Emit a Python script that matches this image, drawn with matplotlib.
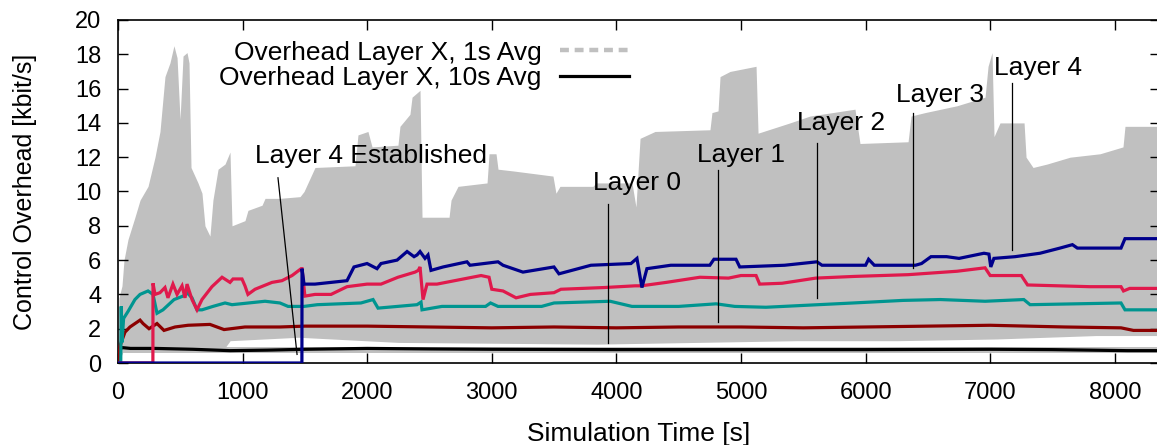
import matplotlib
matplotlib.use('Agg')
import matplotlib.pyplot as plt
from matplotlib.lines import Line2D

plt.rcParams['font.family'] = ['Liberation Sans', 'DejaVu Sans']

# 1s averages (all layers): grey envelope
env_t = [0, 8, 32, 48, 80, 136, 177, 241, 297, 337, 377, 417, 449, 474, 498, 522, 554, 570,
         586, 642, 674, 698, 738, 762, 803, 859, 899, 915, 1019, 1043, 1156, 1180, 1300, 1461,
         1493, 1581, 1902, 1926, 2006, 2039, 2247, 2263, 2343, 2360, 2424, 2440, 2657, 2673,
         2729, 2962, 2978, 3034, 3050, 3170, 3491, 3515, 3547, 3812, 3836, 4125, 4157, 4190,
         4310, 4751, 4767, 4816, 4832, 4912, 5121, 5137, 5393, 5554, 5915, 5955, 6341, 6365,
         6477, 6734, 6959, 6983, 7015, 7031, 7079, 7272, 7288, 7344, 7456, 7641, 7882, 8066,
         8082, 8400]
env_hi = [0, 3.8, 4.5, 6.0, 7.2, 8.5, 9.5, 10.3, 12.0, 13.5, 16.7, 17.5, 18.5, 17.8, 14.2, 17.9,
          18.1, 17.5, 11.4, 10.5, 9.9, 8.0, 7.4, 9.5, 11.3, 11.6, 12.3, 8.0, 8.3, 8.9, 9.2, 9.6,
          9.6, 9.7, 10.0, 11.4, 11.5, 13.3, 13.5, 12.6, 12.7, 13.8, 14.5, 15.5, 15.9, 8.5, 8.5,
          9.5, 10.3, 10.5, 12.2, 12.2, 11.3, 11.2, 10.9, 9.9, 10.3, 10.3, 10.5, 10.5, 9.1, 13.1,
          13.5, 13.6, 14.6, 14.7, 16.7, 17.0, 17.3, 13.4, 14.0, 14.4, 14.8, 12.8, 12.9, 14.4,
          14.6, 15.0, 15.5, 17.3, 18.1, 13.2, 14.0, 14.0, 12.0, 11.4, 11.6, 12.0, 12.2, 12.6,
          13.8, 13.8]
low_t = [0, 56, 860, 900, 1450, 2250, 3850, 4650, 5450, 6250, 7050, 7850, 8400]
low_v = [0, 0.9, 0.9, 1.3, 1.5, 1.2, 1.1, 1.2, 1.3, 1.3, 1.4, 1.6, 1.6]
l0_band = [0.6, 0.95]

# 10s averages per layer
t0 = [0, 10, 30, 100, 300, 600, 900, 1200, 1500, 2000, 2500, 3000, 4000, 5000, 6000, 7000,
      7500, 8100, 8400]
v0 = [0, 0.7, 0.9, 0.85, 0.85, 0.8, 0.72, 0.75, 0.8, 0.85, 0.82, 0.8, 0.78, 0.78, 0.78, 0.8,
      0.78, 0.72, 0.72]

t1 = [0, 16, 56, 96, 177, 201, 249, 313, 369, 458, 562, 738, 851, 1019, 1300, 1500, 2000,
      2500, 3000, 3500, 4000, 4500, 5000, 5500, 6000, 6500, 7000, 7300, 7600, 8050, 8150, 8400]
v1 = [0, 1.0, 1.8, 2.1, 2.5, 2.3, 2.0, 2.3, 1.9, 2.1, 2.2, 2.25, 1.95, 2.1, 2.1, 2.15, 2.15,
      2.1, 2.05, 2.1, 2.05, 2.1, 2.1, 2.05, 2.1, 2.15, 2.2, 2.15, 2.1, 2.05, 1.9, 1.9]

t2 = [0, 22, 26, 32, 45, 80, 136, 177, 241, 281, 313, 361, 450, 522, 554, 594, 634, 674, 762,
      859, 915, 1180, 1300, 1365, 1493, 1600, 1950, 2047, 2087, 2400, 2432, 2440, 2600, 2950,
      2990, 3050, 3400, 3500, 3950, 4125, 4500, 4800, 4950, 5200, 5900, 6300, 6600, 6959,
      7270, 7320, 8050, 8082, 8400]
v2 = [0, 0, 3.3, 1.2, 2.6, 3.0, 3.7, 4.0, 4.2, 4.0, 2.9, 3.1, 3.7, 3.9, 4.1, 3.8, 3.1, 3.1,
      3.3, 3.5, 3.4, 3.6, 3.5, 3.3, 3.3, 3.4, 3.5, 3.7, 3.2, 3.4, 3.55, 3.1, 3.3, 3.3, 3.5,
      3.3, 3.3, 3.5, 3.6, 3.3, 3.3, 3.45, 3.3, 3.25, 3.5, 3.65, 3.7, 3.6, 3.7, 3.4, 3.5, 3.1,
      3.1]

t3 = [0, 280, 281, 297, 337, 377, 401, 441, 474, 514, 538, 554, 594, 634, 674, 754, 835, 899,
      923, 995, 1019, 1043, 1100, 1236, 1316, 1397, 1470, 1477, 1500, 1581, 1710, 1838, 1999,
      2111, 2247, 2384, 2410, 2424, 2448, 2480, 2560, 2914, 2978, 3000, 3090, 3195, 3310,
      3499, 3555, 3900, 4150, 4200, 4400, 4670, 4900, 5000, 5121, 5150, 5330, 5600, 5915,
      6341, 6734, 6959, 7000, 7250, 7300, 7800, 8050, 8070, 8120, 8400]
v3 = [0, 0, 4.65, 4.0, 4.1, 4.4, 3.8, 4.6, 4.0, 4.5, 3.8, 4.6, 3.7, 3.1, 3.7, 4.45, 5.0, 4.7,
      4.9, 4.9, 4.5, 4.0, 4.3, 4.7, 4.8, 5.1, 5.5, 5.5, 3.9, 4.0, 4.0, 4.45, 4.6, 4.6, 5.0,
      5.3, 5.4, 5.6, 3.7, 4.6, 4.6, 5.1, 5.0, 4.3, 4.2, 3.8, 4.0, 4.1, 4.3, 4.4, 4.5, 4.5,
      4.7, 5.0, 4.95, 5.1, 5.1, 4.6, 4.65, 4.95, 5.05, 5.15, 5.35, 5.55, 5.1, 5.1, 4.55,
      4.45, 4.45, 4.2, 4.35, 4.35]

t4 = [0, 1476, 1477, 1493, 1581, 1838, 1894, 1999, 2079, 2111, 2240, 2320, 2376, 2400, 2424,
      2464, 2488, 2512, 2609, 2801, 2825, 3050, 3090, 3250, 3499, 3539, 3796, 4117, 4165,
      4205, 4245, 4437, 4750, 4783, 4960, 4990, 5350, 5610, 5650, 6000, 6024, 6070, 6400,
      6449, 6525, 6650, 6750, 6950, 6990, 7005, 7030, 7200, 7400, 7560, 7660, 7700, 8050,
      8082, 8400]
v4 = [0, 0, 5.5, 4.6, 4.6, 4.8, 5.6, 5.8, 5.5, 5.8, 6.0, 6.5, 6.2, 6.3, 6.5, 6.1, 6.3, 5.4,
      5.6, 5.9, 5.7, 5.9, 5.7, 5.3, 5.6, 5.2, 5.7, 5.8, 6.1, 4.4, 5.5, 5.7, 5.7, 6.05, 6.05,
      5.6, 5.7, 5.9, 5.7, 5.7, 6.05, 5.7, 5.7, 5.8, 6.2, 6.2, 6.1, 6.4, 6.35, 5.6, 6.1, 6.2,
      6.4, 6.7, 6.9, 6.7, 6.7, 7.25, 7.25]

layer_colors = ['#000000', '#8b0000', '#009590', '#e0194c', '#00008b']

# annotations: label, text x, text baseline y, line x top/bottom, y top/bottom
notes = ['Layer 4 Established', 'Layer 0', 'Layer 1', 'Layer 2', 'Layer 3', 'Layer 4']
note_tx = [2031, 4166, 5004, 5803, 6597, 7384]
note_ty = [11.66, 10.09, 11.72, 13.59, 15.22, 16.79]
note_x0 = [1284, 3933, 4816, 5610, 6381, 7175]
note_x1 = [1437, 3933, 4816, 5610, 6381, 7175]
note_y0 = [10.8, 9.3, 11.25, 12.8, 14.6, 16.3]
note_y1 = [0.5, 1.15, 2.4, 3.8, 5.55, 6.6]

fig = plt.figure(figsize=(11.57, 4.45), dpi=100)
ax = fig.add_axes([118 / 1157, 82 / 445, 1042 / 1157, 343 / 445])

grey = '#c0c0c0'
ax.fill_between(env_t, env_hi, 0, color=grey, lw=0, zorder=1)
ax.fill_between(low_t, low_v, 0, color='white', lw=0, zorder=1.5)
ax.fill_between([0, 8400], l0_band[0], l0_band[1], color=grey, lw=0, zorder=1.6)

for t, v, c in zip([t0, t1, t2, t3, t4], [v0, v1, v2, v3, v4], layer_colors):
    ax.plot(t, v, color=c, lw=2.3, zorder=3, solid_joinstyle='miter')

for i in range(len(notes)):
    ax.plot([note_x0[i], note_x1[i]], [note_y0[i], note_y1[i]], color='black', lw=0.9, zorder=4)
    ax.text(note_tx[i], note_ty[i], notes[i], ha='center', va='baseline', fontsize=19, zorder=5)

handles = [Line2D([], [], color=grey, lw=3.2, ls=(0, (2, 1.3))),
           Line2D([], [], color='black', lw=2.3)]
ax.legend(handles, ['Overhead Layer X, 1s Avg', 'Overhead Layer X, 10s Avg'],
          loc='upper right', bbox_to_anchor=(0.49, 0.94), frameon=False, markerfirst=False,
          fontsize=19, handlelength=2.6, handletextpad=0.7, labelspacing=0.05,
          borderpad=0, borderaxespad=0)

ax.set_xlim(0, 8363)
ax.set_ylim(0, 20)
ax.set_xticks(range(0, 8001, 1000))
ax.set_yticks(range(0, 21, 2))
ax.tick_params(direction='in', length=7, width=1, top=True, right=True, labelsize=17)
ax.tick_params(axis='y', pad=12)
ax.tick_params(axis='x', pad=14)
for s in ax.spines.values():
    s.set_linewidth(1.2)
ax.set_xlabel('Simulation Time [s]', fontsize=19, labelpad=13)
ax.set_ylabel('Control Overhead [kbit/s]', fontsize=18, labelpad=27)

fig.savefig('out.png', dpi=100)
